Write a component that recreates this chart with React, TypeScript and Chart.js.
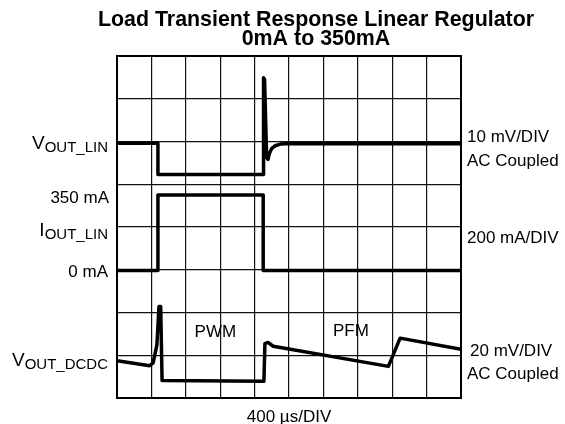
import React, { useEffect, useRef } from "react";
import { Chart, registerables } from "chart.js";

Chart.register(...registerables);

// ---- Data (scope divisions: x = time divisions 0..10, y = vertical divisions 0..8) ----
const TITLE_LINES = ["Load Transient Response Linear Regulator", "0mA to 350mA"];
const TIME_DIVISIONS = 10;
const VERTICAL_DIVISIONS = 8;

const VOUT_LIN_T = [0, 1.19, 1.19, 4.25, 4.26, 4.29, 4.35, 4.39, 4.43, 4.5, 4.6, 4.75, 4.9, 10];
const VOUT_LIN_V = [5.96, 5.96, 5.23, 5.23, 7.49, 7.45, 5.62, 5.58, 5.72, 5.84, 5.9, 5.94, 5.95, 5.95];

const IOUT_LIN_T = [0, 1.19, 1.19, 4.25, 4.25, 10];
const IOUT_LIN_V = [2.98, 2.98, 4.75, 4.75, 2.98, 2.98];

const VOUT_DCDC_T = [0, 0.95, 1.05, 1.16, 1.22, 1.27, 1.31, 4.27, 4.3, 4.39, 4.54, 7.89, 8.23, 10];
const VOUT_DCDC_V = [0.87, 0.755, 0.82, 1.245, 2.14, 2.14, 0.41, 0.39, 1.27, 1.3, 1.21, 0.74, 1.4, 1.14];

const LEFT_LABELS = ["350 mA", "0 mA"];
const RIGHT_LABELS = ["10 mV/DIV", "AC Coupled", "200 mA/DIV", "20 mV/DIV", "AC Coupled"];
const MODE_LABELS = ["PWM", "PFM"];
const TIME_LABEL = "400 µs/DIV";

const zip = (t: number[], v: number[]) => t.map((x, i) => ({ x, y: v[i] }));

const FONT = '"Liberation Sans", Arial, Helvetica, sans-serif';

function drawSubLabel(ctx: CanvasRenderingContext2D, main: string, sub: string, right: number, baseline: number) {
  ctx.font = `19px ${FONT}`;
  const mw = ctx.measureText(main).width;
  ctx.font = `15px ${FONT}`;
  const sw = ctx.measureText(sub).width;
  ctx.textAlign = "left";
  ctx.font = `19px ${FONT}`;
  ctx.fillText(main, right - sw - mw, baseline);
  ctx.font = `15px ${FONT}`;
  ctx.fillText(sub, right - sw, baseline + 3);
}

const scopePlugin = {
  id: "scopeDecor",
  beforeDatasetsDraw(chart: any) {
    const { ctx, chartArea } = chart;
    ctx.save();
    ctx.strokeStyle = "#000";
    ctx.lineWidth = 2;
    ctx.strokeRect(chartArea.left, chartArea.top, chartArea.right - chartArea.left, chartArea.bottom - chartArea.top);
    ctx.restore();
  },
  afterDraw(chart: any) {
    const { ctx, chartArea, scales } = chart;
    const ys = scales.y;
    const xs = scales.x;
    ctx.save();
    ctx.fillStyle = "#000";
    ctx.textBaseline = "alphabetic";

    // Title
    ctx.font = `bold 21.4px ${FONT}`;
    ctx.textAlign = "center";
    ctx.fillText(TITLE_LINES[0], 316, 26);
    ctx.fillText(TITLE_LINES[1], 316, 45);

    // Left labels
    const lx = chartArea.left - 9;
    drawSubLabel(ctx, "V", "OUT_LIN", lx, ys.getPixelForValue(5.96) + 6);
    ctx.font = `17px ${FONT}`;
    ctx.textAlign = "right";
    ctx.fillText(LEFT_LABELS[0], lx + 1, ys.getPixelForValue(4.75) + 8);
    drawSubLabel(ctx, "I", "OUT_LIN", lx, 236);
    ctx.font = `17px ${FONT}`;
    ctx.textAlign = "right";
    ctx.fillText(LEFT_LABELS[1], lx, ys.getPixelForValue(2.98) + 6);
    drawSubLabel(ctx, "V", "OUT_DCDC", lx, ys.getPixelForValue(0.87) + 5);

    // Right labels
    ctx.font = `17px ${FONT}`;
    ctx.textAlign = "left";
    const rx = chartArea.right + 6;
    ctx.fillText(RIGHT_LABELS[0], rx, 142);
    ctx.fillText(RIGHT_LABELS[1], rx, 166);
    ctx.fillText(RIGHT_LABELS[2], rx, 243);
    ctx.fillText(RIGHT_LABELS[3], rx + 3, 356);
    ctx.fillText(RIGHT_LABELS[4], rx, 379);

    // Mode labels
    ctx.textAlign = "center";
    ctx.fillText(MODE_LABELS[0], xs.getPixelForValue(2.86), 337);
    ctx.fillText(MODE_LABELS[1], xs.getPixelForValue(6.8), 336);

    // Time label
    ctx.fillText(TIME_LABEL, xs.getPixelForValue(5), 422);
    ctx.restore();
  },
};

export default function App() {
  const ref = useRef<HTMLCanvasElement | null>(null);

  useEffect(() => {
    if (!ref.current) return;
    const traceStyle = {
      borderColor: "#000",
      borderWidth: 3.5,
      pointRadius: 0,
      fill: false,
      tension: 0,
      borderJoinStyle: "round" as const,
      borderCapStyle: "round" as const,
    };
    const chart = new Chart(ref.current, {
      type: "line",
      data: {
        datasets: [
          { label: "VOUT_LIN", data: zip(VOUT_LIN_T, VOUT_LIN_V), ...traceStyle },
          { label: "IOUT_LIN", data: zip(IOUT_LIN_T, IOUT_LIN_V), ...traceStyle },
          { label: "VOUT_DCDC", data: zip(VOUT_DCDC_T, VOUT_DCDC_V), ...traceStyle },
        ],
      },
      options: {
        animation: false,
        responsive: false,
        devicePixelRatio: 1,
        layout: { padding: { left: 117, right: 104, top: 56, bottom: 26 } },
        plugins: { legend: { display: false }, tooltip: { enabled: false }, title: { display: false } },
        scales: {
          x: {
            type: "linear",
            min: 0,
            max: TIME_DIVISIONS,
            ticks: { display: false, stepSize: 1 },
            grid: { color: "#111", lineWidth: 1.2, drawTicks: false },
            border: { display: false },
          },
          y: {
            type: "linear",
            min: 0,
            max: VERTICAL_DIVISIONS,
            ticks: { display: false, stepSize: 1 },
            grid: { color: "#111", lineWidth: 1.2, drawTicks: false },
            border: { display: false },
          },
        },
      },
      plugins: [scopePlugin],
    });
    return () => chart.destroy();
  }, []);

  return (
    <div style={{ position: "absolute", left: 0, top: 0, width: 565, height: 424, background: "#fff" }}>
      <canvas ref={ref} width={565} height={424} />
    </div>
  );
}
